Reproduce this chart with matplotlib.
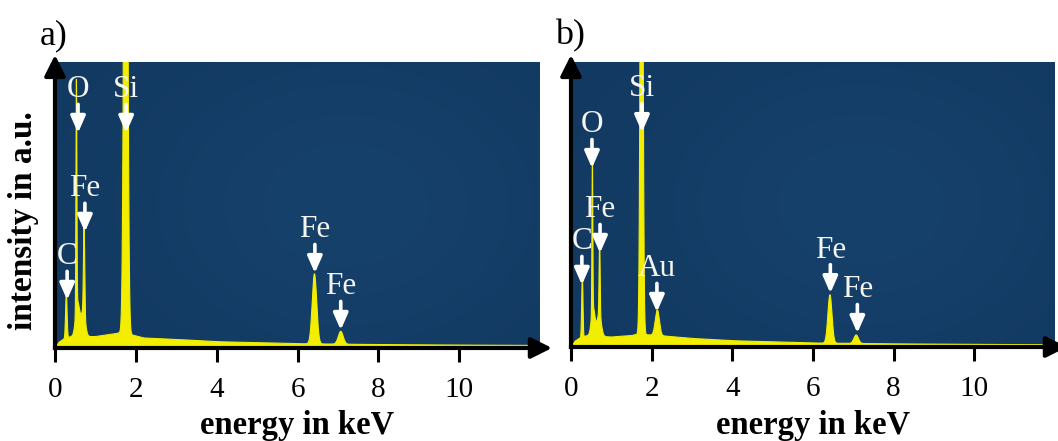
import numpy as np
import matplotlib
import matplotlib.pyplot as plt

plt.rcParams['font.family'] = ['Liberation Serif', 'DejaVu Serif']

# EDX spectra: peaks as (energy keV, height, sigma keV), heights relative to panel top
peaks_a = [(0.28, 0.16, 0.018), (0.53, 0.80, 0.011), (0.56, 0.12, 0.050),
           (0.72, 0.30, 0.015), (0.70, 0.09, 0.050), (1.75, 3.00, 0.040),
           (6.42, 0.245, 0.055), (7.07, 0.045, 0.060)]
peaks_b = [(0.28, 0.22, 0.015), (0.53, 0.55, 0.010), (0.55, 0.10, 0.045),
           (0.71, 0.27, 0.012), (0.70, 0.08, 0.050), (1.75, 2.50, 0.030),
           (2.14, 0.09, 0.050), (6.42, 0.17, 0.050), (7.07, 0.030, 0.055)]

# continuum levels read along the baseline
bg_energy = [0.0, 0.1, 0.2, 0.4, 1.0, 1.5, 1.65, 2.2, 3.0, 4.0, 6.0, 8.0, 10.0, 12.0]
bg_a = [0.0, 0.02, 0.03, 0.04, 0.04, 0.05, 0.055, 0.035, 0.03, 0.022, 0.015, 0.012, 0.010, 0.009]
bg_b = [0.0, 0.02, 0.03, 0.04, 0.035, 0.04, 0.045, 0.04, 0.03, 0.022, 0.014, 0.011, 0.009, 0.008]

# peak labels: element, energy, arrow tip height
labels_a = ['C', 'O', 'Fe', 'Si', 'Fe', 'Fe']
label_e_a = [0.30, 0.57, 0.74, 1.76, 6.43, 7.07]
tip_a = [0.168, 0.752, 0.406, 0.752, 0.262, 0.063]

labels_b = ['C', 'O', 'Fe', 'Si', 'Au', 'Fe', 'Fe']
label_e_b = [0.27, 0.52, 0.72, 1.76, 2.13, 6.43, 7.10]
tip_b = [0.218, 0.628, 0.33, 0.754, 0.123, 0.189, 0.049]

xticks = [0, 2, 4, 6, 8, 10]

energy = np.linspace(0, 12, 8000)


def spectrum(peaks, bg):
    y = np.interp(energy, bg_energy, bg)
    for e0, h, s in peaks:
        y = y + h * np.exp(-0.5 * ((energy - e0) / s) ** 2)
    return y


def background(ax):
    nx, ny = 300, 120
    gx, gy = np.meshgrid(np.linspace(0, 1, nx), np.linspace(0, 1, ny))
    t = np.exp(-((gx - 0.6) ** 2 / 0.25 + (gy - 0.5) ** 2 / 0.4))
    c0 = np.array([17, 56, 96]) / 255
    c1 = np.array([22, 65, 107]) / 255
    img = c0 + (c1 - c0) * t[..., None]
    ax.imshow(img, extent=[0, 12, 0, 1], aspect='auto', origin='lower', zorder=0)


fig = plt.figure(figsize=(10.58, 4.41), dpi=100)
H = 441.0
W = 1058.0

panels = [
    (55, 540, 348, 62, peaks_a, bg_a, labels_a, label_e_a, tip_a, 'a)', 40),
    (571, 1055, 347, 62, peaks_b, bg_b, labels_b, label_e_b, tip_b, 'b)', 555),
]

for left, right, base, top, peaks, bg, labels, lab_e, tips, tag, tag_x in panels:
    ax = fig.add_axes([left / W, 1 - base / H, (right - left) / W, (base - top) / H])
    background(ax)
    y = spectrum(peaks, bg)
    ax.fill_between(energy, 0, y, color='#f3ee00', lw=0, zorder=2)
    ax.plot(energy, y, color='#f3ee00', lw=0.8, zorder=2)
    ax.set_xlim(0, 12)
    ax.set_ylim(0, 1)

    for s in ['top', 'right']:
        ax.spines[s].set_visible(False)
    for s in ['left', 'bottom']:
        ax.spines[s].set_linewidth(3.0)
        ax.spines[s].set_zorder(5)
    ax.set_yticks([])
    ax.set_xticks(xticks)
    ax.tick_params(axis='x', length=10, width=2.2, direction='out', labelsize=21, pad=11)

    # axis arrowheads
    ax.annotate('', xy=(0, 1.025), xytext=(0, 0.98), xycoords='axes fraction',
                arrowprops=dict(arrowstyle='-|>,head_width=0.35,head_length=0.7',
                                color='black', lw=3, shrinkA=0, shrinkB=0,
                                mutation_scale=18), annotation_clip=False)
    ax.annotate('', xy=(12.0 + 12 * 12 / (right - left), 0), xytext=(11.9, 0),
                xycoords='data',
                arrowprops=dict(arrowstyle='-|>,head_width=0.35,head_length=0.7',
                                color='black', lw=3, shrinkA=0, shrinkB=0,
                                mutation_scale=18), annotation_clip=False)

    for name, e, tip in zip(labels, lab_e, tips):
        ax.annotate('', xy=(e, tip), xytext=(e, tip + 0.10),
                    arrowprops=dict(arrowstyle='-|>,head_width=0.22,head_length=0.5',
                                    color='white', lw=2.6, shrinkA=0, shrinkB=0,
                                    mutation_scale=20), zorder=4)
        ax.text(e, tip + 0.125, name, color='#f4f4f0', fontsize=22.5,
                ha='center', va='baseline', zorder=4)

    ax.text(0.5, -(434 - base) / (base - top), 'energy in keV', transform=ax.transAxes,
            ha='center', va='baseline', fontsize=23.5, fontweight='bold')
    fig.text(tag_x / W, 1 - 36 / H, tag, fontsize=26, ha='left', va='center')

fig.text(24 / W, 1 - 221 / H, 'intensity in a.u.', rotation=90, ha='center', va='center',
         fontsize=24, fontweight='bold')

fig.savefig('out.png', dpi=100)
